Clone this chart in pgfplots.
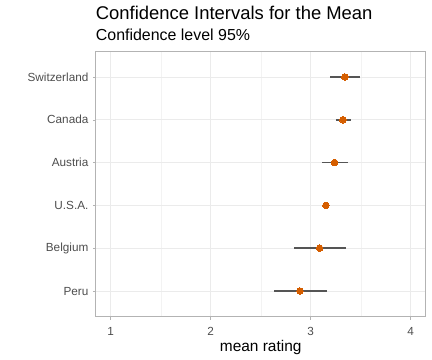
\documentclass[border=0pt]{standalone}
\usepackage{fontspec}
\setmainfont{Liberation Sans}
\usepackage{pgfplots}
\usepackage{pgfplotstable}
\pgfplotsset{compat=1.18}
\definecolor{ptcol}{HTML}{D55E00}
\definecolor{errcol}{HTML}{555555}
\definecolor{gridmaj}{HTML}{EBEBEB}
\definecolor{gridmin}{HTML}{F3F3F3}
\definecolor{bordercol}{HTML}{B3B3B3}
\definecolor{ticklab}{HTML}{4D4D4D}
\pgfplotstableread{
pos mean lo hi
1 2.892 2.630 3.162
2 3.089 2.829 3.355
3 3.152 3.130 3.175
4 3.239 3.109 3.375
5 3.321 3.249 3.398
6 3.341 3.188 3.495
}\ci
\pgfplotstablecreatecol[expr={\thisrow{hi}-\thisrow{mean}}]{ep}{\ci}
\pgfplotstablecreatecol[expr={\thisrow{mean}-\thisrow{lo}}]{em}{\ci}
\begin{document}
\begin{tikzpicture}
\useasboundingbox (0,0) rectangle (432bp,360bp);
\node[anchor=base west, inner sep=0pt, font=\fontsize{18.5}{22}\selectfont] at (95.7bp,340bp) {Confidence Intervals for the Mean};
\node[anchor=base west, inner sep=0pt, font=\fontsize{16}{19}\selectfont] at (95.7bp,319bp) {Confidence level 95\%};
\begin{axis}[
  at={(95.7bp,43.3bp)}, anchor=south west,
  scale only axis, width=330bp, height=265.4bp,
  xmin=0.85, xmax=4.15, ymin=0.4, ymax=6.6,
  xtick={1,2,3,4}, minor xtick={1.5,2.5,3.5},
  ytick={1,2,3,4,5,6},
  yticklabels={Peru,Belgium,U.S.A.,Austria,Canada,Switzerland},
  grid=both,
  major grid style={draw=gridmaj, line width=0.7bp},
  minor grid style={draw=gridmin, line width=0.4bp},
  axis line style={draw=bordercol, line width=0.6bp},
  tick align=outside, major tick length=2.8bp, minor tick length=0pt,
  tick style={draw=bordercol, line width=0.5bp},
  xtick pos=bottom, ytick pos=left,
  /pgf/number format/assume math mode=true,
  ticklabel style={font=\fontsize{11.8}{14}\selectfont, text=ticklab},
  xticklabel style={anchor=base, yshift=-16bp},
  yticklabel style={anchor=east, xshift=-1bp},
  xlabel={mean rating},
  xlabel style={font=\fontsize{15.5}{18}\selectfont, anchor=base, at={(axis description cs:0.5,0)}, yshift=-35bp},
  clip=false,
]
\addplot[only marks, mark=none, forget plot,
  error bars/.cd, x dir=both, x explicit, error mark=none,
  error bar style={draw=errcol, line width=1.5bp}]
  table[x=mean, y=pos, x error plus=ep, x error minus=em] {\ci};
\addplot[only marks, mark=*, mark size=3.3bp, mark options={fill=ptcol, draw=ptcol, line width=0pt}]
  table[x=mean, y=pos] {\ci};
\end{axis}
\end{tikzpicture}
\end{document}
